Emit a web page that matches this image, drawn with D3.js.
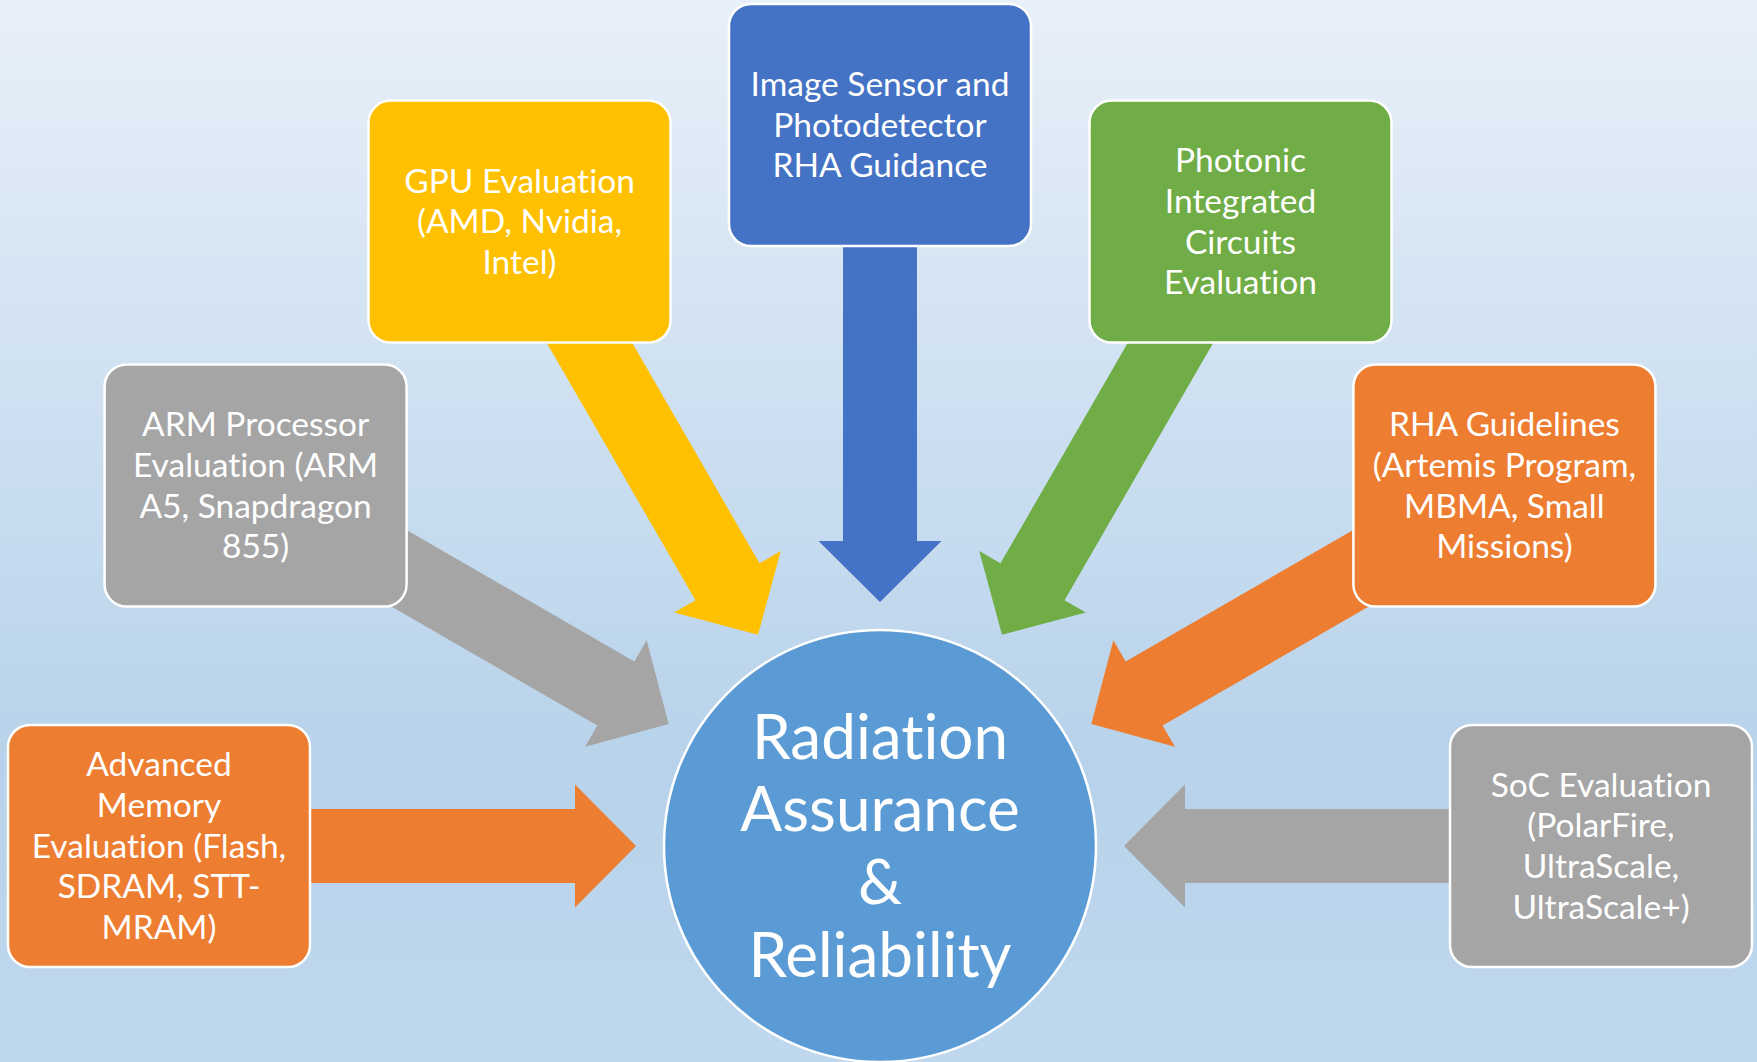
<!DOCTYPE html>
<html>
<head>
<meta charset="utf-8">
<script src="https://cdn.jsdelivr.net/npm/d3@7"></script>
<style>
  html, body { margin: 0; padding: 0; overflow: hidden; }
  svg { display: block; }
  text { font-variant-ligatures: none; font-feature-settings: "liga" 0, "clig" 0; }
</style>
</head>
<body>
<svg id="chart" width="1757" height="1062"></svg>
<script>
// ---- data ----
const centerLabel = ["Radiation", "Assurance", "&", "Reliability"];
const nodeLabels = [
  ["Advanced", "Memory", "Evaluation (Flash,", "SDRAM, STT-", "MRAM)"],
  ["ARM Processor", "Evaluation (ARM", "A5, Snapdragon", "855)"],
  ["GPU Evaluation", "(AMD, Nvidia,", "Intel)"],
  ["Image Sensor and", "Photodetector", "RHA Guidance"],
  ["Photonic", "Integrated", "Circuits", "Evaluation"],
  ["RHA Guidelines", "(Artemis Program,", "MBMA, Small", "Missions)"],
  ["SoC Evaluation", "(PolarFire,", "UltraScale,", "UltraScale+)"]
];
const nodeColors = ["#ED7D31", "#A5A5A5", "#FFC000", "#4472C4", "#70AD47", "#ED7D31", "#A5A5A5"];

// ---- layout ----
const W = 1757, H = 1062;
const C = { x: 880, y: 846 };
const ringR = 721;       // distance of box centres from the hub
const tipR = 244;        // distance of arrow tips from the hub
const hubR = 216;
const boxW = 302, boxH = 242, boxRad = 22;
const shaftHalf = 37, headHalf = 61.5, headLen = 61;
const FONT = "Lato, 'Open Sans', sans-serif";

const svg = d3.select("#chart");
const defs = svg.append("defs");
const grad = defs.append("linearGradient").attr("id", "bg")
  .attr("x1", 0).attr("y1", 0).attr("x2", 0).attr("y2", 1);
grad.append("stop").attr("offset", 0).attr("stop-color", "#E8F0F9");
grad.append("stop").attr("offset", 0.72).attr("stop-color", "#B7D2EA");
grad.append("stop").attr("offset", 1).attr("stop-color", "#C0D8EE");
svg.append("rect").attr("width", W).attr("height", H).attr("fill", "url(#bg)");

// angular scale: node index -> angle (degrees) around the hub
const angle = d3.scaleLinear().domain([0, nodeLabels.length - 1]).range([180, 360]);

const nodes = nodeLabels.map((lines, i) => {
  const a = angle(i) * Math.PI / 180;
  return {
    lines, color: nodeColors[i], deg: angle(i),
    cx: C.x + ringR * Math.cos(a),
    cy: C.y + ringR * Math.sin(a)
  };
});

// arrows (drawn beneath boxes)
const L = ringR - tipR;
const arrowPts = [
  [0, -shaftHalf], [L - headLen, -shaftHalf], [L - headLen, -headHalf],
  [L, 0], [L - headLen, headHalf], [L - headLen, shaftHalf], [0, shaftHalf]
];
const line = d3.line();
svg.append("g").selectAll("path").data(nodes).join("path")
  .attr("d", line(arrowPts) + "Z")
  .attr("transform", d => `translate(${d.cx},${d.cy}) rotate(${d.deg + 180})`)
  .attr("fill", d => d.color);

// boxes
const lh = 40.7;
const gBox = svg.append("g").selectAll("g").data(nodes).join("g")
  .attr("transform", d => `translate(${d.cx},${d.cy})`);
gBox.append("rect")
  .attr("x", -boxW / 2).attr("y", -boxH / 2)
  .attr("width", boxW).attr("height", boxH)
  .attr("rx", boxRad).attr("ry", boxRad)
  .attr("fill", d => d.color)
  .attr("stroke", "#fff").attr("stroke-width", 2.5);
gBox.append("text")
  .attr("text-anchor", "middle")
  .attr("font-family", FONT).attr("font-size", 33.5)
  .attr("fill", "#fff")
  .selectAll("tspan").data(d => d.lines.map((t, i) => ({ t, i, n: d.lines.length })))
  .join("tspan")
  .attr("x", 0)
  .attr("y", d => (d.i - (d.n - 1) / 2) * lh)
  .attr("dy", "0.35em")
  .text(d => d.t);

// hub
svg.append("circle").attr("cx", C.x).attr("cy", C.y).attr("r", hubR)
  .attr("fill", "#5B9BD5").attr("stroke", "#fff").attr("stroke-width", 2.5);
const clh = 72.7;
svg.append("text")
  .attr("text-anchor", "middle")
  .attr("font-family", FONT).attr("font-size", 62)
  .attr("fill", "#fff")
  .selectAll("tspan").data(centerLabel).join("tspan")
  .attr("x", C.x)
  .attr("y", (d, i) => C.y + (i - (centerLabel.length - 1) / 2) * clh)
  .attr("dy", "0.35em")
  .text(d => d);
</script>
</body>
</html>
